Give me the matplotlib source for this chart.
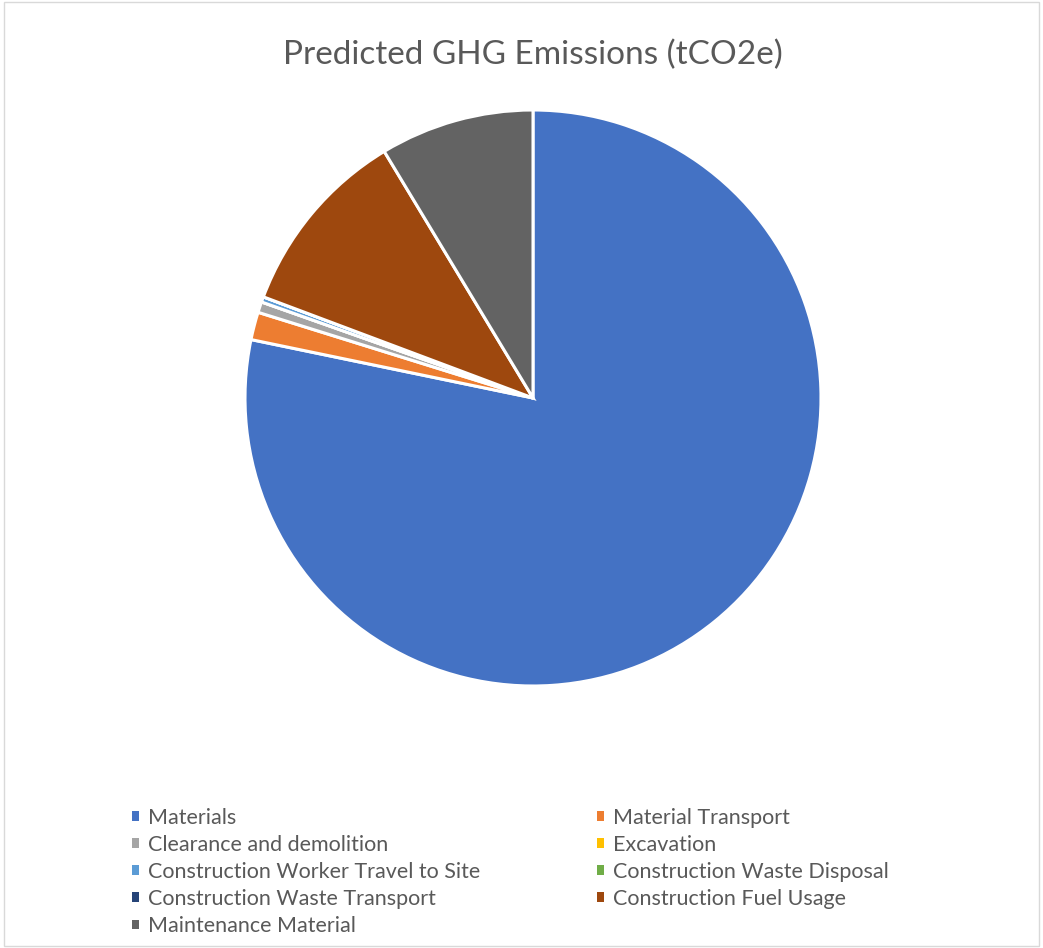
import matplotlib
matplotlib.use("Agg")
import matplotlib.pyplot as plt
from matplotlib.patches import Rectangle

categories = ["Materials", "Material Transport", "Clearance and demolition", "Excavation",
              "Construction Worker Travel to Site", "Construction Waste Disposal",
              "Construction Waste Transport", "Construction Fuel Usage", "Maintenance Material"]
values = [77.9, 1.55, 0.6, 0.0, 0.3, 0.0, 0.0, 10.6, 8.6]
colors = ["#4472C4", "#ED7D31", "#A5A5A5", "#FFC000", "#5B9BD5", "#70AD47",
          "#264478", "#9E480E", "#636363"]
title = "Predicted GHG Emissions (tCO2e)"

plt.rcParams['font.family'] = ['Lato', 'DejaVu Sans']
W, H = 1043, 948
fig = plt.figure(figsize=(W / 100, H / 100), dpi=100)
fig.patch.set_facecolor("white")

cx, cy, r = 533, 398, 288
ax = fig.add_axes([(cx - r) / W, (H - cy - r) / H, 2 * r / W, 2 * r / H])
wedges, _ = ax.pie(values, colors=colors, startangle=90, counterclock=False, radius=1,
                   wedgeprops=dict(edgecolor="white", linewidth=2.2))
ax.set_xlim(-1, 1)
ax.set_ylim(-1, 1)
ax.set_aspect("equal")
ax.axis("off")

fig.text(cx / W, 1 - 55 / H, title, ha="center", va="center", fontsize=24, color="#595959")

order = [0, 2, 4, 6, 8, 1, 3, 5, 7]
handles = [Rectangle((0, 0), 1, 1, facecolor=colors[i], edgecolor="none") for i in order]
labels = [categories[i] for i in order]
leg = fig.legend(handles, labels, ncol=2, loc="upper left",
                 bbox_to_anchor=(121 / W, 1 - 797 / H), frameon=False,
                 fontsize=15.5, labelcolor="#595959", handlelength=0.33, handleheight=0.33,
                 handletextpad=0.44, columnspacing=5.4, labelspacing=0.33, borderpad=0)

fig.patches.append(Rectangle((0.004, 0.002), 0.992, 0.996, transform=fig.transFigure,
                             fill=False, edgecolor="#D9D9D9", linewidth=1))

fig.savefig("out.png", dpi=100)
